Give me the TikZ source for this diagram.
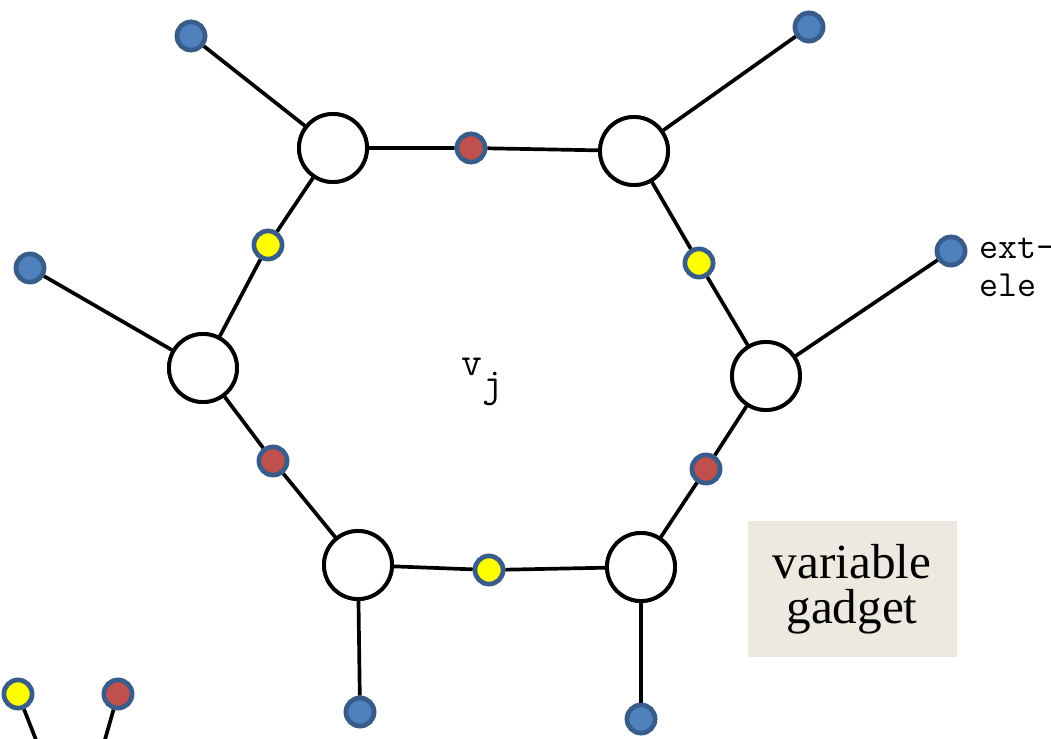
\documentclass[tikz,border=0pt]{standalone}
\usepackage{fontspec}
\newfontfamily\boxfont{Liberation Serif}
\definecolor{gdblue}{HTML}{4F81BD}
\definecolor{gdring}{HTML}{385D8A}
\definecolor{gdred}{HTML}{C0504D}
\definecolor{gdyellow}{HTML}{FFFF00}
\definecolor{gdbox}{HTML}{ECEAE0}

\begin{document}
\begin{tikzpicture}[
  x=0.2mm, y=-0.2mm,
  every node/.style={inner sep=0pt},
  vert/.style={circle, draw=black, line width=2.2pt, fill=white, minimum size=13.6mm},
  dot/.style={circle, draw=gdring, line width=2.6pt, minimum size=5.6mm},
  leaf/.style={dot, fill=gdblue},
  redlit/.style={dot, fill=gdred},
  yellowlit/.style={dot, fill=gdyellow},
  edge/.style={draw=black, line width=2.1pt},
]
\useasboundingbox (0,0) rectangle (1051,739);
\clip (0,0) rectangle (1051,739);

% Hexagon vertices
\node[vert] (tl) at (333,148) {};
\node[vert] (tr) at (634,151) {};
\node[vert] (ml) at (203,368) {};
\node[vert] (mr) at (766,376) {};
\node[vert] (bl) at (358,565) {};
\node[vert] (br) at (641,567) {};

% Literal dots on the ring
\node[redlit] (ltop) at (471,148) {};
\node[yellowlit] (lul) at (268,245) {};
\node[yellowlit] (lur) at (699,263) {};
\node[redlit] (lll) at (273,461) {};
\node[redlit] (llr) at (706,469) {};
\node[yellowlit] (lbot) at (489,570) {};

% External leaves
\node[leaf] (xtl) at (191,36) {};
\node[leaf] (xtr) at (809,27) {};
\node[leaf] (xml) at (30,268) {};
\node[leaf] (xmr) at (951,251) {};
\node[leaf] (xbl) at (360,712) {};
\node[leaf] (xbr) at (641,719) {};

% Fragments at the lower left
\node[yellowlit] (fy) at (18,694) {};
\node[redlit] (fr) at (118,694) {};
\coordinate (fyend) at (40,750);
\coordinate (frend) at (102,750);

% Ring edges
\draw[edge] (tl) -- (ltop) -- (tr);
\draw[edge] (tr) -- (lur) -- (mr);
\draw[edge] (mr) -- (llr) -- (br);
\draw[edge] (br) -- (lbot) -- (bl);
\draw[edge] (bl) -- (lll) -- (ml);
\draw[edge] (ml) -- (lul) -- (tl);

% Edges to leaves
\draw[edge] (tl) -- (xtl);
\draw[edge] (tr) -- (xtr);
\draw[edge] (ml) -- (xml);
\draw[edge] (mr) -- (xmr);
\draw[edge] (bl) -- (xbl);
\draw[edge] (br) -- (xbr);
\draw[edge] (fy) -- (fyend);
\draw[edge] (fr) -- (frend);

% Labels
\node[anchor=base west, font=\ttfamily\fontsize{23}{23}\selectfont] (vj) at (461,375) {v\raisebox{-12.5pt}{j}};
\node[anchor=base west, align=left, font=\ttfamily\fontsize{21}{22}\selectfont] (ext) at (979,297) {ext-\\ele};
\node[fill=gdbox, minimum width=41.8mm, minimum height=27.2mm, align=center,
  font=\boxfont\fontsize{28}{25.5}\selectfont] (gadget) at (852,589) {variable\\gadget};

% Redraw dots over edges
\foreach \n/\s in {ltop/redlit, lul/yellowlit, lur/yellowlit, lll/redlit, llr/redlit, lbot/yellowlit,
                   xtl/leaf, xtr/leaf, xml/leaf, xmr/leaf, xbl/leaf, xbr/leaf, fy/yellowlit, fr/redlit}
  \node[\s] at (\n) {};
\foreach \n in {tl, tr, ml, mr, bl, br}
  \node[vert] at (\n) {};
\end{tikzpicture}
\end{document}
